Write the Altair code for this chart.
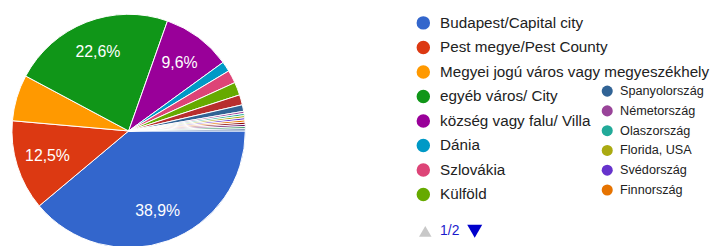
import math
import altair as alt
import pandas as pd

# ---- data ----
labels = [
    "Budapest/Capital city", "Pest megye/Pest County",
    "Megyei jogú város vagy megyeszékhely", "egyéb város/ City",
    "község vagy falu/ Village", "Dánia", "Szlovákia", "Külföld",
    "(9)", "Spanyolország", "Németország", "Olaszország", "Florida, USA",
    "Svédország", "Finnország", "(16)", "(17)", "(18)", "(19)",
]
shares = [38.9, 12.5, 6.4, 22.6, 9.6, 1.4, 1.8, 1.8, 1.4, 0.9,
          0.3, 0.3, 0.3, 0.3, 0.3, 0.3, 0.3, 0.3, 0.3]
palette = ["#3366cc", "#dc3912", "#ff9900", "#109618", "#990099", "#0099c6",
           "#dd4477", "#66aa00", "#b82e2e", "#316395", "#994499", "#22aa99",
           "#aaaa11", "#6633cc", "#e67300", "#8b0707", "#651067", "#329262",
           "#5574a6"]
legend_col0 = [0, 1, 2, 3, 4, 5, 6, 7]        # slice indices in legend column 1
legend_col1 = [9, 10, 11, 12, 13, 14]         # slice indices in legend column 2
page_text = "1/2"

FONT = "Liberation Sans"

pie_df = pd.DataFrame({
    "idx": list(range(len(labels))),
    "label": labels,
    "share": shares,
    "pct": [(f"{v:.1f}%".replace(".", ",") if v >= 8 else "") for v in shares],
})

color = alt.Color("label:N", scale=alt.Scale(domain=labels, range=palette), legend=None)
theta = alt.Theta("share:Q", stack=True,
                  scale=alt.Scale(domain=[0, 100], range=[math.pi / 2, math.pi / 2 + 2 * math.pi]))
cx, cy = alt.value(122), alt.value(123)

arcs = alt.Chart(pie_df).mark_arc(outerRadius=118, stroke="white", strokeWidth=1).encode(
    theta=theta, color=color, order=alt.Order("idx:Q"), x=cx, y=cy)

pct = alt.Chart(pie_df).mark_text(radius=86, fontSize=16, font=FONT, color="white").encode(
    theta=theta, text="pct:N", order=alt.Order("idx:Q"), detail="label:N", x=cx, y=cy)

leg0 = pd.DataFrame({"label": [labels[i] for i in legend_col0],
                     "row": list(range(len(legend_col0))),
                     "col": [0] * len(legend_col0)})
leg1 = pd.DataFrame({"label": [labels[i] for i in legend_col1],
                     "row": list(range(len(legend_col1))),
                     "col": [1] * len(legend_col1)})

xs = alt.X("col:Q", scale=alt.Scale(domain=[0, 1], range=[420, 606]), axis=None)
y0 = alt.Y("row:Q", scale=alt.Scale(domain=[0, 7], range=[13.7, 187.3]), axis=None)
y1 = alt.Y("row:Q", scale=alt.Scale(domain=[0, 5], range=[82.7, 182.7]), axis=None)

dots0 = alt.Chart(leg0).mark_circle(size=185, opacity=1).encode(x=xs, y=y0, color=color)
text0 = alt.Chart(leg0).transform_filter("datum.row != 4").mark_text(
    align="left", baseline="middle", dx=17, fontSize=15.4, font=FONT, color="#222222").encode(
    x=xs, y=y0, text="label:N")
text0b = alt.Chart(leg0).transform_filter("datum.row == 4").mark_text(
    align="left", baseline="middle", dx=17, fontSize=15.4, font=FONT, color="#222222",
    limit=156, ellipsis="\u200b").encode(x=xs, y=y0, text="label:N")

dots1 = alt.Chart(leg1).mark_circle(size=125, opacity=1).encode(x=xs, y=y1, color=color)
text1 = alt.Chart(leg1).mark_text(
    align="left", baseline="middle", dx=13, fontSize=12.8, font=FONT, color="#222222").encode(
    x=xs, y=y1, text="label:N")

nav_df = pd.DataFrame({"col": [0], "row": [8.5], "t": [page_text]})
up = alt.Chart(nav_df).mark_point(shape="triangle-up", filled=True, size=160, color="#c8c8c8",
                                  opacity=1, xOffset=2).encode(x=xs, y=y0)
navtext = alt.Chart(nav_df).mark_text(align="left", baseline="middle", dx=17, fontSize=14,
                                      font=FONT, color="#1a1acc").encode(x=xs, y=y0, text="t:N")
down = alt.Chart(nav_df).mark_point(shape="triangle-down", filled=True, size=230, color="#0000cc",
                                    opacity=1, xOffset=52).encode(x=xs, y=y0)

chart = alt.layer(arcs, pct, dots0, text0, text0b, dots1, text1, up, navtext, down).resolve_scale(
    x="independent", y="independent").properties(
    width=716, height=238, padding=0, autosize=alt.AutoSizeParams(type="none")
).configure_view(stroke=None)

chart.save("out.html", embed_options={"renderer": "svg", "actions": False})
